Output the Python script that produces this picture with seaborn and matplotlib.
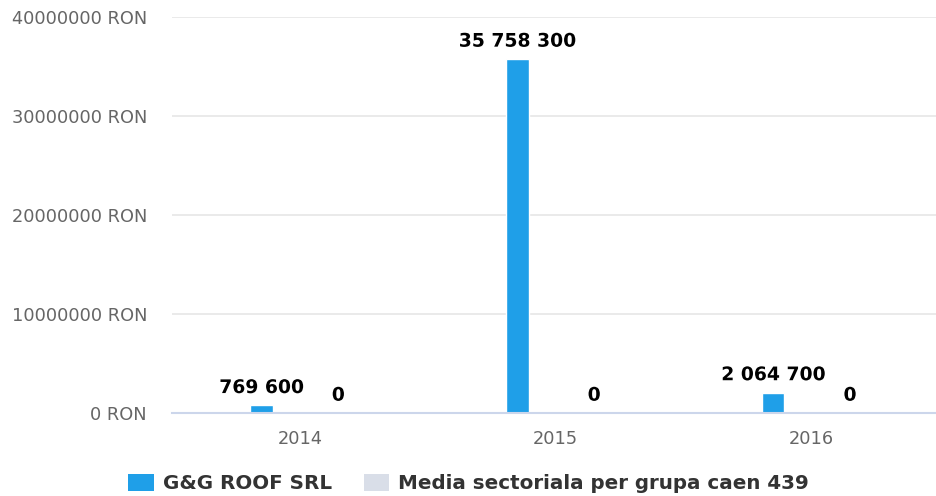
import matplotlib
matplotlib.use("Agg")
import matplotlib.pyplot as plt
import matplotlib.patheffects as pe
from matplotlib.patches import Patch
from matplotlib.ticker import FixedLocator
import seaborn as sns
import pandas as pd

years = ["2014", "2015", "2016"]
company = [769600, 35758300, 2064700]
sector_avg = [0, 0, 0]
series_names = ["G&G ROOF SRL", "Media sectoriala per grupa caen 439"]
y_ticks = [0, 10000000, 20000000, 30000000, 40000000]
colors = ["#1f9fe8", "#d9dee8"]

df = pd.DataFrame({
    "year": years * 2,
    "value": company + sector_avg,
    "series": [series_names[0]] * 3 + [series_names[1]] * 3,
})

sns.set_theme(style="white")
plt.rcParams["font.family"] = ["DejaVu Sans"]

fig = plt.figure(figsize=(9.37, 4.96), dpi=100)
ax = fig.add_axes([172 / 937, 83 / 496, 765 / 937, 396 / 496])

sns.barplot(data=df, x="year", y="value", hue="series", order=years,
            hue_order=series_names, palette=colors, width=0.6, gap=0.71,
            saturation=1, legend=False, ax=ax)

ax.set_ylim(0, 40000000)
ax.set_xlim(-0.5, 2.49)
ax.set_yticks(y_ticks)
ax.set_yticklabels([f"{t} RON" for t in y_ticks])
ax.grid(axis="y", color="#e6e6e6", linewidth=1.2)
ax.set_axisbelow(True)
ax.set_xlabel("")
ax.set_ylabel("")

for side in ["left", "right", "top"]:
    ax.spines[side].set_visible(False)
ax.spines["bottom"].set_color("#ccd6eb")
ax.spines["bottom"].set_linewidth(1.5)

ax.tick_params(axis="y", length=0, pad=18, labelsize=12.8, labelcolor="#666666")
ax.tick_params(axis="x", which="major", length=0, pad=12, labelsize=12.8,
               labelcolor="#666666")
ax.xaxis.set_minor_locator(FixedLocator([0.5, 1.5]))
ax.tick_params(axis="x", which="minor", length=8, width=1.2, color="#ccd6eb")


def fmt(v):
    return f"{int(v):,}".replace(",", " ")


for container in ax.containers:
    ax.bar_label(container, labels=[fmt(b.get_height()) for b in container],
                 padding=6, fontsize=13.5, fontweight="bold", color="black",
                 path_effects=[pe.withStroke(linewidth=2, foreground="white")])

handles = [Patch(facecolor=c, edgecolor="none") for c in colors]
fig.legend(handles, series_names, loc="lower center",
           bbox_to_anchor=(0.5, -0.03), ncol=2, frameon=False,
           prop={"size": 14.3, "weight": "bold"}, labelcolor="#333333",
           handlelength=1.3, handleheight=0.95, handletextpad=0.45,
           columnspacing=1.6)

fig.savefig("out.png", dpi=100)
